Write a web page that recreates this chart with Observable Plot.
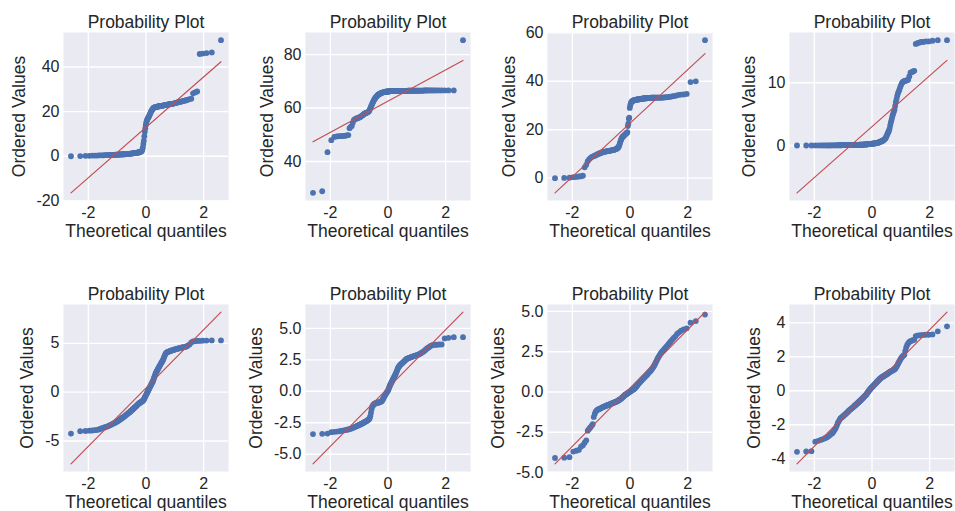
<!DOCTYPE html>
<html><head><meta charset="utf-8">
<script src="https://cdn.jsdelivr.net/npm/d3@7"></script>
<script src="https://cdn.jsdelivr.net/npm/@observablehq/plot@0.6"></script>
<style>
html,body{margin:0;padding:0;background:#fff;overflow:hidden;}
#fig{position:relative;width:955px;height:511px;}
#fig .panel{position:absolute;}
</style></head><body><div id="fig"></div>
<script>
// Ordered values (sorted sample)
const panel1 = [
0.0,0.1,0.2,0.2,0.3,0.3,0.3,0.4,0.4,0.4,
0.4,0.5,0.5,0.5,0.5,0.5,0.6,0.6,0.6,0.6,
0.6,0.7,0.7,0.7,0.7,0.7,0.8,0.8,0.8,0.8,
0.8,0.9,0.9,0.9,0.9,1.0,1.0,1.0,1.0,1.1,
1.1,1.1,1.1,1.2,1.2,1.2,1.2,1.3,1.3,1.3,
1.4,1.4,1.4,1.5,1.5,1.5,1.6,1.6,1.7,1.7,
1.8,1.8,1.9,2.0,2.1,2.2,2.5,3.0,4.0,5.5,
7.0,9.0,11.0,12.5,14.0,15.0,15.8,16.3,16.8,17.2,
17.6,18.0,18.5,19.0,19.5,20.0,20.4,20.8,21.1,21.4,
21.6,21.8,21.9,22.0,22.0,22.1,22.1,22.2,22.2,22.3,
22.4,22.4,22.5,22.5,22.5,22.6,22.6,22.7,22.7,22.8,
22.8,22.9,22.9,23.0,23.0,23.1,23.1,23.2,23.3,23.3,
23.4,23.4,23.5,23.5,23.6,23.7,23.8,23.9,24.0,24.1,
24.2,24.3,24.4,24.5,24.6,24.8,24.9,25.0,25.2,25.4,
25.6,25.8,28.2,28.6,29.0,45.8,46.0,46.2,46.5,52.0];
const panel2 = [
28.3,28.9,43.5,48.0,49.2,49.4,49.5,49.5,49.6,49.6,
49.7,49.8,49.9,52.5,53.0,53.3,54.5,55.5,55.8,56.0,
56.1,56.2,56.3,56.5,56.6,56.8,57.0,57.2,57.4,57.6,
57.8,58.0,58.1,58.2,58.3,58.4,58.5,58.7,59.0,59.5,
60.0,60.5,61.0,61.5,62.0,62.4,62.8,63.2,63.5,63.8,
64.1,64.3,64.5,64.7,64.9,65.0,65.2,65.3,65.4,65.5,
65.6,65.7,65.8,65.8,65.9,65.9,66.0,66.0,66.0,66.1,
66.1,66.1,66.1,66.2,66.2,66.2,66.2,66.2,66.3,66.3,
66.3,66.3,66.3,66.3,66.3,66.3,66.3,66.3,66.3,66.3,
66.3,66.3,66.3,66.4,66.4,66.4,66.4,66.4,66.4,66.4,
66.4,66.4,66.4,66.4,66.4,66.4,66.4,66.4,66.4,66.4,
66.4,66.4,66.4,66.5,66.5,66.5,66.5,66.5,66.5,66.5,
66.5,66.5,66.5,66.5,66.5,66.5,66.5,66.5,66.5,66.5,
66.5,66.5,66.5,66.5,66.6,66.6,66.6,66.6,66.6,66.6,
66.6,66.6,66.6,66.6,66.6,66.6,66.6,66.6,66.6,85.4];
const panel3 = [
0.0,0.1,0.2,0.4,0.5,0.7,0.8,1.0,4.5,5.5,
7.0,7.8,8.3,8.7,8.9,9.1,9.3,9.5,9.7,9.9,
10.1,10.2,10.3,10.5,10.6,10.7,10.8,10.9,11.0,11.0,
11.1,11.1,11.2,11.2,11.3,11.3,11.4,11.4,11.5,11.5,
11.6,11.6,11.7,11.7,11.8,11.9,12.0,12.1,12.2,12.4,
12.6,12.8,13.2,13.8,14.5,15.2,15.8,16.3,16.7,17.0,
17.2,17.4,17.6,17.8,18.0,18.2,18.4,18.6,18.8,19.0,
21.5,22.5,24.5,25.0,29.0,30.0,30.8,31.3,31.6,31.8,
31.9,32.0,32.1,32.2,32.2,32.3,32.3,32.4,32.4,32.5,
32.5,32.5,32.6,32.6,32.6,32.7,32.7,32.7,32.8,32.8,
32.8,32.9,32.9,32.9,33.0,33.0,33.0,33.0,33.0,33.1,
33.1,33.1,33.1,33.1,33.1,33.2,33.2,33.2,33.2,33.2,
33.2,33.2,33.3,33.3,33.3,33.3,33.3,33.3,33.3,33.3,
33.3,33.3,33.4,33.4,33.4,33.5,33.5,33.6,33.7,33.8,
33.9,34.0,34.2,34.4,34.5,34.6,34.8,39.7,40.0,57.0];
const panel4 = [
0.00,0.00,0.00,0.01,0.01,0.01,0.01,0.02,0.02,0.02,
0.02,0.02,0.03,0.03,0.03,0.03,0.03,0.04,0.04,0.04,
0.04,0.04,0.05,0.05,0.05,0.05,0.05,0.06,0.06,0.06,
0.06,0.06,0.07,0.07,0.07,0.07,0.08,0.08,0.08,0.08,
0.09,0.09,0.09,0.10,0.10,0.10,0.11,0.11,0.11,0.12,
0.12,0.12,0.13,0.13,0.14,0.14,0.15,0.15,0.16,0.16,
0.17,0.17,0.18,0.18,0.19,0.20,0.20,0.21,0.22,0.23,
0.24,0.25,0.26,0.27,0.28,0.29,0.30,0.31,0.32,0.33,
0.34,0.35,0.36,0.38,0.40,0.42,0.44,0.46,0.48,0.50,
0.55,0.60,0.60,0.65,0.70,0.70,0.75,0.80,0.90,0.95,
1.0,1.1,1.2,1.4,1.6,1.8,2.0,2.2,2.4,2.7,
3.2,3.6,4.0,4.4,4.8,5.1,5.4,5.7,6.3,6.9,
7.4,7.9,8.3,8.6,8.9,9.3,9.6,9.9,10.1,10.2,
10.3,10.3,10.4,10.4,10.5,11.0,11.6,11.7,11.8,11.9,
16.2,16.3,16.4,16.5,16.5,16.6,16.6,16.7,16.8,16.8];
const panel5 = [
-4.25,-4.0,-3.98,-3.95,-3.93,-3.9,-3.87,-3.82,-3.75,-3.7,
-3.65,-3.6,-3.55,-3.5,-3.45,-3.4,-3.35,-3.3,-3.25,-3.2,
-3.15,-3.1,-3.05,-3.0,-2.95,-2.9,-2.85,-2.8,-2.75,-2.7,
-2.65,-2.6,-2.55,-2.5,-2.45,-2.4,-2.35,-2.3,-2.25,-2.2,
-2.15,-2.1,-2.05,-2.0,-1.95,-1.9,-1.85,-1.8,-1.75,-1.7,
-1.65,-1.6,-1.55,-1.5,-1.45,-1.4,-1.35,-1.3,-1.25,-1.2,
-1.15,-1.12,-1.08,-1.05,-1.02,-0.99,-0.95,-0.92,-0.88,-0.82,
-0.75,-0.65,-0.55,-0.45,-0.35,-0.25,-0.15,-0.05,0.05,0.15,
0.25,0.35,0.45,0.55,0.65,0.75,0.85,0.95,1.05,1.15,
1.3,1.45,1.6,1.75,1.9,2.0,2.1,2.2,2.3,2.4,
2.5,2.6,2.7,2.8,2.9,3.0,3.1,3.2,3.3,3.45,
3.6,3.75,3.9,4.0,4.05,4.1,4.12,4.15,4.18,4.2,
4.22,4.25,4.28,4.3,4.32,4.35,4.38,4.4,4.42,4.45,
4.47,4.5,4.52,4.55,4.58,4.6,4.62,4.65,4.7,4.8,
4.9,5.1,5.2,5.22,5.25,5.25,5.27,5.28,5.3,5.3];
const panel6 = [
-3.4,-3.38,-3.36,-3.25,-3.22,-3.2,-3.18,-3.15,-3.12,-3.1,
-3.08,-3.05,-3.03,-3.0,-2.97,-2.94,-2.9,-2.87,-2.84,-2.8,
-2.77,-2.74,-2.71,-2.68,-2.65,-2.62,-2.59,-2.56,-2.53,-2.5,
-2.47,-2.44,-2.41,-2.38,-2.35,-2.32,-2.28,-2.25,-2.2,-2.1,
-1.95,-1.7,-1.45,-1.25,-1.15,-1.1,-1.05,-1.0,-0.98,-0.95,
-0.94,-0.93,-0.92,-0.91,-0.9,-0.89,-0.88,-0.87,-0.86,-0.84,
-0.82,-0.8,-0.75,-0.7,-0.62,-0.55,-0.48,-0.4,-0.33,-0.26,
-0.2,-0.14,-0.08,-0.02,0.04,0.1,0.2,0.3,0.4,0.5,
0.58,0.65,0.72,0.8,0.88,0.96,1.04,1.12,1.2,1.28,
1.36,1.45,1.55,1.65,1.75,1.85,1.92,1.98,2.03,2.08,
2.12,2.16,2.2,2.24,2.28,2.32,2.36,2.4,2.45,2.5,
2.55,2.58,2.6,2.62,2.64,2.66,2.68,2.7,2.72,2.74,
2.76,2.78,2.8,2.82,2.84,2.86,2.88,2.9,2.93,2.96,
3.0,3.05,3.1,3.15,3.2,3.28,3.36,3.44,3.5,3.58,
3.65,3.68,3.7,3.7,3.72,3.72,4.2,4.25,4.3,4.3];
const panel7 = [
-4.1,-4.08,-4.05,-3.7,-3.65,-3.6,-3.4,-3.3,-3.15,-3.0,
-2.4,-2.3,-2.2,-2.1,-2.0,-1.55,-1.35,-1.2,-1.15,-1.1,
-1.07,-1.05,-1.03,-1.0,-0.97,-0.95,-0.93,-0.91,-0.89,-0.87,
-0.85,-0.84,-0.82,-0.81,-0.79,-0.78,-0.76,-0.75,-0.73,-0.71,
-0.7,-0.69,-0.67,-0.66,-0.64,-0.63,-0.61,-0.6,-0.58,-0.57,
-0.54,-0.52,-0.5,-0.49,-0.47,-0.44,-0.42,-0.39,-0.36,-0.33,
-0.3,-0.28,-0.25,-0.22,-0.19,-0.17,-0.15,-0.13,-0.11,-0.09,
-0.07,-0.05,-0.03,-0.01,0.01,0.03,0.05,0.07,0.09,0.11,
0.13,0.15,0.17,0.19,0.22,0.25,0.29,0.32,0.36,0.4,
0.44,0.48,0.52,0.55,0.59,0.62,0.66,0.69,0.73,0.77,
0.8,0.83,0.87,0.9,0.94,0.97,1.01,1.04,1.08,1.12,
1.16,1.2,1.24,1.28,1.32,1.37,1.42,1.48,1.54,1.6,
1.68,1.76,1.85,1.95,2.05,2.13,2.21,2.29,2.37,2.45,
2.52,2.58,2.65,2.72,2.8,2.88,2.97,3.06,3.15,3.25,
3.35,3.45,3.6,3.7,3.8,3.88,3.95,4.3,4.4,4.8];
const panel8 = [
-3.6,-3.58,-3.56,-3.0,-2.95,-2.9,-2.85,-2.8,-2.75,-2.7,
-2.62,-2.55,-2.5,-2.4,-2.3,-2.2,-2.05,-1.9,-1.8,-1.7,
-1.62,-1.58,-1.54,-1.5,-1.46,-1.42,-1.38,-1.34,-1.3,-1.26,
-1.22,-1.18,-1.14,-1.11,-1.08,-1.05,-1.02,-0.99,-0.96,-0.93,
-0.9,-0.87,-0.84,-0.81,-0.78,-0.75,-0.72,-0.69,-0.66,-0.63,
-0.6,-0.57,-0.54,-0.51,-0.48,-0.45,-0.42,-0.39,-0.36,-0.33,
-0.3,-0.27,-0.24,-0.2,-0.16,-0.12,-0.08,-0.04,0.0,0.04,
0.08,0.11,0.14,0.17,0.2,0.23,0.26,0.29,0.32,0.35,
0.38,0.41,0.44,0.47,0.5,0.53,0.56,0.59,0.62,0.65,
0.68,0.71,0.74,0.76,0.78,0.8,0.82,0.84,0.86,0.88,
0.9,0.92,0.94,0.96,0.98,1.0,1.02,1.05,1.08,1.1,
1.12,1.14,1.16,1.18,1.2,1.22,1.24,1.27,1.3,1.35,
1.42,1.5,1.58,1.66,1.74,1.82,1.9,1.97,2.03,2.08,
2.12,2.35,2.55,2.7,2.8,2.88,2.92,2.95,2.98,3.0,
3.22,3.25,3.27,3.28,3.29,3.3,3.3,3.32,3.5,3.8];

const titles = "Probability Plot";
const xLabel = "Theoretical quantiles";
const yLabel = "Ordered Values";
const xTicks = [-2, 0, 2];
const yTickSets = [
  [-20, 0, 20, 40],
  [40, 60, 80],
  [0, 20, 40, 60],
  [0, 10],
  [-5, 0, 5],
  [-5, -2.5, 0, 2.5, 5],
  [-5, -2.5, 0, 2.5, 5],
  [-4, -2, 0, 2, 4]
];
const tickDecimals = [0, 0, 0, 0, 0, 1, 1, 0];

// layout (not data)
const yLabelOffsets = [44.5, 38.5, 38.5, 40, 36, 49, 49, 35.5];

// normal quantile function (Acklam)
function normInv(p) {
  const a = [-3.969683028665376e+01, 2.209460984245205e+02, -2.759285104469687e+02, 1.383577518672690e+02, -3.066479806614716e+01, 2.506628277459239e+00];
  const b = [-5.447609879822406e+01, 1.615858368580409e+02, -1.556989798598866e+02, 6.680131188771972e+01, -1.328068155288572e+01];
  const c = [-7.784894002430293e-03, -3.223964580411365e-01, -2.400758296508298e+00, -2.549732539343734e+00, 4.374664141464968e+00, 2.938163982698783e+00];
  const d = [7.784695709041462e-03, 3.224671290700398e-01, 2.445134176466673e+00, 3.754408661907416e+00];
  const plow = 0.02425, phigh = 1 - plow;
  let q, r;
  if (p < plow) {
    q = Math.sqrt(-2 * Math.log(p));
    return (((((c[0]*q+c[1])*q+c[2])*q+c[3])*q+c[4])*q+c[5]) / ((((d[0]*q+d[1])*q+d[2])*q+d[3])*q+1);
  } else if (p <= phigh) {
    q = p - 0.5; r = q * q;
    return (((((a[0]*r+a[1])*r+a[2])*r+a[3])*r+a[4])*r+a[5])*q / (((((b[0]*r+b[1])*r+b[2])*r+b[3])*r+b[4])*r+1);
  } else {
    q = Math.sqrt(-2 * Math.log(1 - p));
    return -(((((c[0]*q+c[1])*q+c[2])*q+c[3])*q+c[4])*q+c[5]) / ((((d[0]*q+d[1])*q+d[2])*q+d[3])*q+1);
  }
}
// Filliben order statistic medians (as in scipy.stats.probplot)
function theoreticalQuantiles(n) {
  const v = new Array(n);
  v[n - 1] = Math.pow(0.5, 1 / n);
  v[0] = 1 - v[n - 1];
  for (let i = 2; i < n; i++) v[i - 1] = (i - 0.3175) / (n + 0.365);
  return v.map(normInv);
}

const panels = [panel1, panel2, panel3, panel4, panel5, panel6, panel7, panel8];
const fig = document.getElementById("fig");
const fmt = dec => v => (v < 0 ? "-" : "") + Math.abs(v).toFixed(dec);

panels.forEach((vals, k) => {
  const sorted = vals.slice().sort((a, b) => a - b);
  const osm = theoreticalQuantiles(sorted.length);
  const data = sorted.map((y, i) => ({x: osm[i], y}));
  // least squares fit, for axis limits (matplotlib autoscale with 5% margins)
  const mx = d3.mean(osm), my = d3.mean(sorted);
  const slope = d3.sum(data, d => (d.x - mx) * (d.y - my)) / d3.sum(data, d => (d.x - mx) ** 2);
  const icpt = my - slope * mx;
  const [x0, x1] = d3.extent(osm);
  const ys = sorted.concat([icpt + slope * x0, icpt + slope * x1]);
  const [y0, y1] = d3.extent(ys);
  const xp = (x1 - x0) * 0.05, yp = (y1 - y0) * 0.05;

  const col = k % 4, row = Math.floor(k / 4);
  const H = row === 0 ? 250 : 239;
  const chart = Plot.plot({
    width: 229,
    height: H,
    marginLeft: 63,
    marginRight: 1,
    marginTop: 32,
    marginBottom: row === 0 ? 50 : 40,
    style: {fontFamily: "'Liberation Sans', Arial, sans-serif", fontSize: "16px", color: "#262626", background: "transparent", overflow: "visible"},
    x: {domain: [x0 - xp, x1 + xp], label: null},
    y: {domain: [y0 - yp, y1 + yp], label: null},
    marks: [
      Plot.frame({fill: "#EAEAF2", stroke: "none"}),
      Plot.gridX(xTicks, {stroke: "white", strokeOpacity: 1, strokeWidth: 1.4}),
      Plot.gridY(yTickSets[k], {stroke: "white", strokeOpacity: 1, strokeWidth: 1.4}),
      Plot.axisX(xTicks, {tickSize: 0, tickPadding: 6, label: null, tickFormat: fmt(0)}),
      Plot.axisY(yTickSets[k], {tickSize: 0, tickPadding: 4, label: null, tickFormat: fmt(tickDecimals[k])}),
      Plot.dot(data, {x: "x", y: "y", r: 2.9, fill: "#4C72B0", stroke: "none"}),
      Plot.linearRegressionY(data, {x: "x", y: "y", stroke: "#C44E52", strokeWidth: 1.2, ci: 0}),
      Plot.text([titles], {text: d => d, frameAnchor: "top", dy: -5, lineAnchor: "bottom", textAnchor: "middle", fontSize: 17.5, fill: "#262626"}),
      Plot.text([yLabel], {text: d => d, frameAnchor: "left", dx: -yLabelOffsets[k], rotate: -90, textAnchor: "middle", lineAnchor: "middle", fontSize: 17.5, fill: "#262626"}),
      Plot.text([xLabel], {text: d => d, frameAnchor: "bottom", dy: 31, textAnchor: "middle", lineAnchor: "middle", fontSize: 17.5, fill: "#262626"})
    ]
  });
  chart.classList.add("panel");
  chart.style.left = (242 * col) + "px";
  chart.style.top = (row === 0 ? 0 : 272) + "px";
  fig.appendChild(chart);
});
</script>
</body></html>
